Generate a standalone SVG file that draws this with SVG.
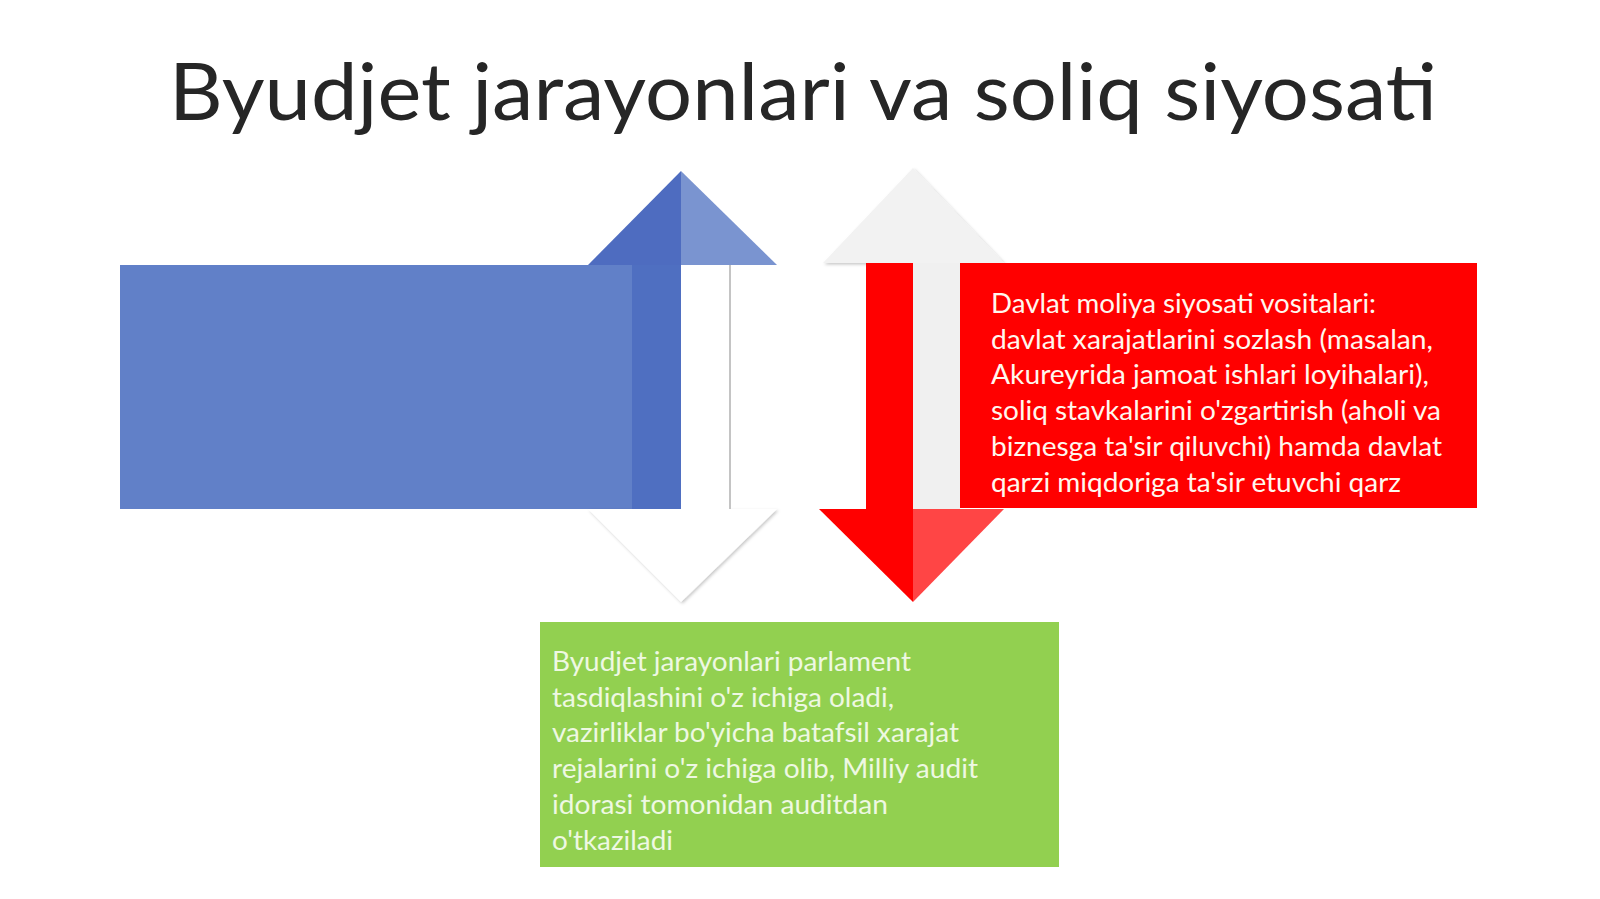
<svg xmlns="http://www.w3.org/2000/svg" width="1600" height="899" viewBox="0 0 1600 899">
  <defs>
    <filter id="soft" x="-10%" y="-10%" width="130%" height="130%">
      <feDropShadow dx="1.5" dy="1.5" stdDeviation="1.5" flood-color="#000" flood-opacity="0.22"/>
    </filter>
    <style>
      .title { font-family: Lato, "Open Sans", "Liberation Sans", sans-serif; font-size: 80px; fill: #262626; }
      .body { font-family: Lato, "Open Sans", "Liberation Sans", sans-serif; font-size: 26px; }
      .red-txt { fill: #fff7ee; }
      .green-txt { fill: #eef8e2; }
    </style>
  </defs>
  <rect width="1600" height="899" fill="#ffffff"/>

  <g id="title">
    <text class="title" x="169" y="120" textLength="1268" lengthAdjust="spacingAndGlyphs">Byudjet jarayonlari va soliq siyosati</text>
  </g>

  <g id="node-blue">
    <rect x="120" y="265" width="561" height="244" fill="#6180c8"/>
  </g>

  <g id="connectors">
    <!-- ghost white down arrowhead under blue arrow -->
    <polygon points="588,509 777,509 681,602" fill="#ffffff" filter="url(#soft)"/>
    <!-- blue up arrow -->
    <rect x="632" y="265" width="49" height="244" fill="#4f6fc1"/>
    <rect x="681" y="265" width="49" height="244" fill="#ffffff"/>
    <line x1="730" y1="265" x2="730" y2="509" stroke="#c4c4c4" stroke-width="2"/>
    <polygon points="588,265 681,171 681,265" fill="#4e6cc0"/>
    <polygon points="681,171 777,265 681,265" fill="#7a94d0"/>

    <!-- ghost grey up arrowhead behind red arrow -->
    <polygon points="823,263 913,168 1004,263" fill="#f2f2f2" filter="url(#soft)"/>
    <!-- red down arrow -->
    <rect x="866" y="263" width="47" height="246" fill="#ff0000"/>
    <rect x="913" y="263" width="47" height="246" fill="#f0f0f0"/>
    <polygon points="819,509 913,509 913,602" fill="#ff0000"/>
    <polygon points="913,509 1004,509 913,602" fill="#ff4545"/>
  </g>

  <g id="node-red-box">
    <rect x="960" y="263" width="517" height="245" fill="#ff0000"/>
    <text class="body red-txt">
      <tspan x="991" y="313" textLength="385" lengthAdjust="spacingAndGlyphs">Davlat moliya siyosati vositalari:</tspan>
      <tspan x="991" y="349" textLength="442" lengthAdjust="spacingAndGlyphs">davlat xarajatlarini sozlash (masalan,</tspan>
      <tspan x="991" y="384" textLength="438" lengthAdjust="spacingAndGlyphs">Akureyrida jamoat ishlari loyihalari),</tspan>
      <tspan x="991" y="420" textLength="450" lengthAdjust="spacingAndGlyphs">soliq stavkalarini o'zgartirish (aholi va</tspan>
      <tspan x="991" y="456" textLength="451" lengthAdjust="spacingAndGlyphs">biznesga ta'sir qiluvchi) hamda davlat</tspan>
      <tspan x="991" y="492" textLength="410" lengthAdjust="spacingAndGlyphs">qarzi miqdoriga ta'sir etuvchi qarz</tspan>
    </text>
  </g>

  <g id="node-green-box">
    <rect x="540" y="622" width="519" height="245" fill="#92d050"/>
    <text class="body green-txt">
      <tspan x="552" y="671" textLength="359" lengthAdjust="spacingAndGlyphs">Byudjet jarayonlari parlament</tspan>
      <tspan x="552" y="707" textLength="342" lengthAdjust="spacingAndGlyphs">tasdiqlashini o'z ichiga oladi,</tspan>
      <tspan x="552" y="742" textLength="407" lengthAdjust="spacingAndGlyphs">vazirliklar bo'yicha batafsil xarajat</tspan>
      <tspan x="552" y="778" textLength="426" lengthAdjust="spacingAndGlyphs">rejalarini o'z ichiga olib, Milliy audit</tspan>
      <tspan x="552" y="814" textLength="336" lengthAdjust="spacingAndGlyphs">idorasi tomonidan auditdan</tspan>
      <tspan x="552" y="850" textLength="121" lengthAdjust="spacingAndGlyphs">o'tkaziladi</tspan>
    </text>
  </g>
</svg>
